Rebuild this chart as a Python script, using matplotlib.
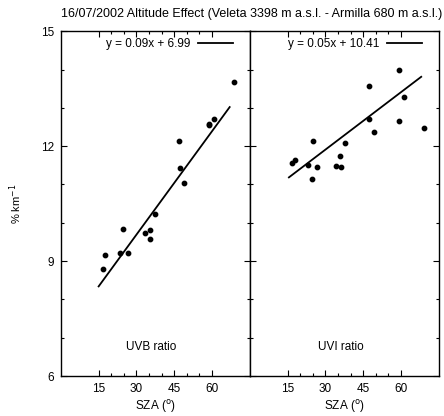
import numpy as np
import matplotlib
matplotlib.use("Agg")
import matplotlib.pyplot as plt
from matplotlib.lines import Line2D

plt.rcParams["font.family"] = ["Liberation Sans", "DejaVu Sans"]

# UVB ratio panel (SZA in degrees, % per km)
uvb_sza = [68.6, 58.9, 58.9, 60.7, 47.0, 47.3, 48.9, 37.4, 24.6, 33.5, 35.5, 35.3, 23.3, 26.5, 17.5, 16.6]
uvb_val = [13.68, 12.59, 12.54, 12.70, 12.13, 11.43, 11.04, 10.22, 9.83, 9.73, 9.80, 9.58, 9.21, 9.20, 9.16, 8.80]
uvb_fit = (0.09, 6.99)
uvb_fit_range = [15.0, 67.0]

# UVI ratio panel
uvi_sza = [59.2, 47.4, 61.3, 47.4, 59.2, 49.3, 69.2, 24.9, 37.6, 35.8, 16.9, 17.8, 23.1, 26.5, 34.0, 36.0, 24.7]
uvi_val = [13.98, 13.57, 13.29, 12.72, 12.65, 12.36, 12.47, 12.14, 12.09, 11.74, 11.57, 11.65, 11.51, 11.46, 11.49, 11.46, 11.14]
uvi_fit = (0.05, 10.41)
uvi_fit_range = [15.5, 68.0]

title = "16/07/2002 Altitude Effect (Veleta 3398 m a.s.l. - Armilla 680 m a.s.l.)"


def panel(ax, sza, val, fit, fit_range, label):
    ax.scatter(sza, val, s=10, color="black", zorder=3)
    xs = np.array(fit_range)
    ax.plot(xs, fit[0] * xs + fit[1], color="black", lw=1.3)
    ax.set_xlim(0, 75)
    ax.set_ylim(6, 15)
    ax.set_xticks([15, 30, 45, 60])
    ax.set_xticks([20, 25, 35, 40, 50, 55], minor=True)
    ax.set_yticks([6, 9, 12, 15])
    ax.set_yticks([7, 8, 10, 11, 13, 14], minor=True)
    ax.tick_params(which="both", direction="in", top=True, right=True, labelsize=8.5, pad=5, width=0.8)
    ax.tick_params(which="major", length=4.5)
    ax.tick_params(which="minor", length=2.5)
    for s in ax.spines.values():
        s.set_linewidth(1.0)
    ax.set_xlabel(r"SZA ($^{\rm o}$)", fontsize=8.5, labelpad=2)
    ax.text(0.48, 0.085, label, transform=ax.transAxes, ha="center", va="center", fontsize=8.5)
    h = Line2D([], [], color="black", lw=1.3)
    ax.legend([h], [f"y = {fit[0]:.2f}x + {fit[1]:.2f}"], loc="upper right", frameon=False,
              bbox_to_anchor=(0.945, 1.0), markerfirst=False, fontsize=8.5, handlelength=3.0,
              borderaxespad=0.55, borderpad=0.0, handletextpad=0.6)


fig = plt.figure(figsize=(4.44, 4.16), dpi=100)
ax1 = fig.add_axes([0.137, 0.096, 0.4257, 0.829])
ax2 = fig.add_axes([0.5627, 0.096, 0.4257, 0.829])

panel(ax1, uvb_sza, uvb_val, uvb_fit, uvb_fit_range, "UVB ratio")
panel(ax2, uvi_sza, uvi_val, uvi_fit, uvi_fit_range, "UVI ratio")
ax2.tick_params(labelleft=False)

ax1.set_ylabel(r"% km$^{-1}$", fontsize=8, labelpad=12)
fig.text(0.566, 0.966, title, ha="center", va="center", fontsize=9)

fig.savefig("out.png", dpi=100)
